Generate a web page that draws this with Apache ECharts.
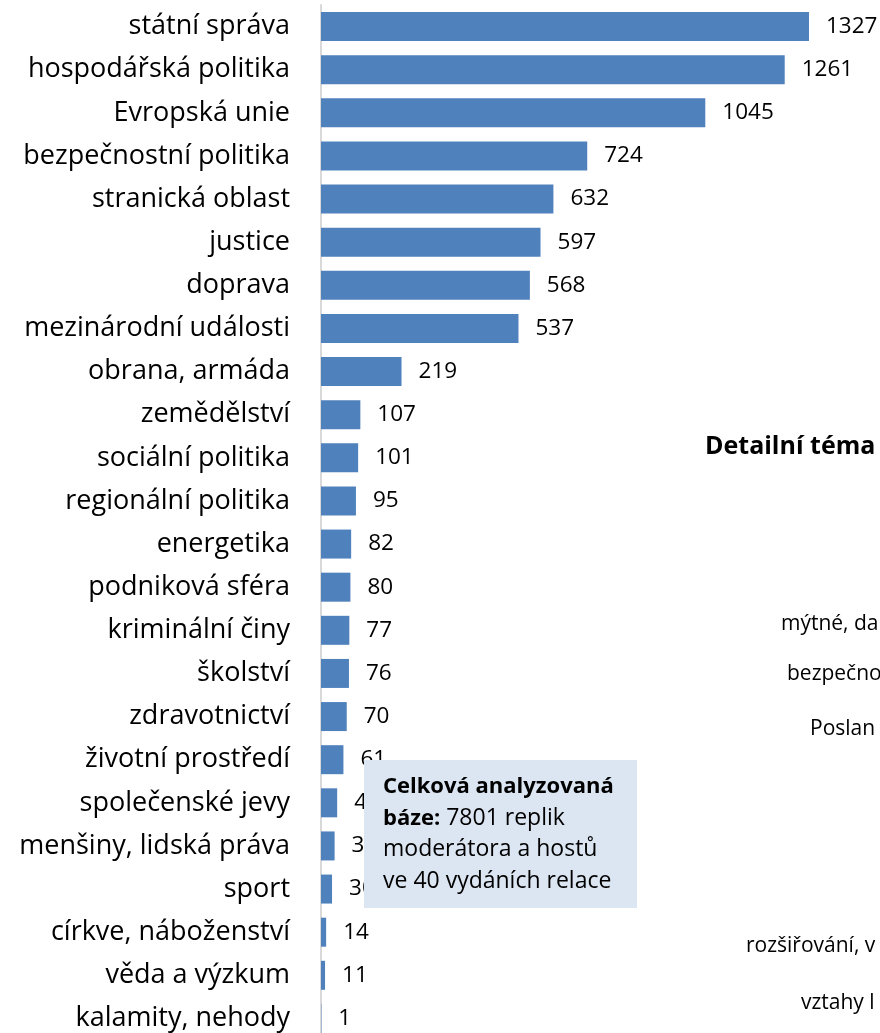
<!DOCTYPE html>
<html lang="cs">
<head>
    <meta charset="UTF-8">
    <title>Témata</title>
    <style>
        html, body { margin: 0; padding: 0; background: #fff; }
        #chart { width: 880px; height: 1033px; }
    </style>
</head>
<body>
<div id="chart"></div>
<script src="https://cdn.jsdelivr.net/npm/echarts@6/dist/echarts.min.js"></script>
<script>
    // data
    const categories = [
        'státní správa', 'hospodářská politika', 'Evropská unie', 'bezpečnostní politika',
        'stranická oblast', 'justice', 'doprava', 'mezinárodní události', 'obrana, armáda',
        'zemědělství', 'sociální politika', 'regionální politika', 'energetika',
        'podniková sféra', 'kriminální činy', 'školství', 'zdravotnictví', 'životní prostředí',
        'společenské jevy', 'menšiny, lidská práva', 'sport', 'církve, náboženství',
        'věda a výzkum', 'kalamity, nehody'
    ];
    const values = [1327, 1261, 1045, 724, 632, 597, 568, 537, 219, 107, 101, 95, 82, 80, 77, 76, 70, 61, 44, 37, 30, 14, 11, 1];
    const sideTitle = 'Detailní téma';
    const sideLabels = ['mýtné, da', 'bezpečno', 'Poslan', 'rozšiřování, v', 'vztahy l'];

    const FONT = '"Open Sans", sans-serif';
    let chart = echarts.init(document.getElementById('chart'));

    // texty vpravo (useknutý druhý graf)
    const sidePos = [[781, 625], [787, 675], [810, 730], [746, 947], [801, 1004]];
    let sideGraphics = sideLabels.map(function (t, i) {
        return {
            type: 'text', left: sidePos[i][0], top: sidePos[i][1] - 11,
            style: {text: t, font: '21px ' + FONT, fill: '#000'}
        };
    });

    chart.setOption({
        animation: false,
        grid: {
            left: 321, top: 5, width: 551.6, height: 1035,
            containLabel: false, outerBoundsMode: 'none'
        },
        xAxis: {
            type: 'value', min: 0, max: 1500, show: false
        },
        yAxis: {
            type: 'category', data: categories, inverse: true,
            axisLine: {show: true, lineStyle: {color: '#d9d9d9', width: 2}},
            axisTick: {show: false},
            axisLabel: {color: '#000', fontSize: 27, fontFamily: FONT, margin: 31}
        },
        series: [{
            type: 'bar', data: values, barWidth: 29,
            itemStyle: {color: '#4f81bd'},
            label: {
                show: true, position: 'right', distance: 17,
                color: '#000', fontSize: 22.5, fontFamily: FONT
            }
        }],
        graphic: [
            {
                type: 'rect', left: 364, top: 760, z: 100,
                shape: {width: 273, height: 148},
                style: {fill: '#dce6f2'}
            },
            {
                type: 'text', left: 383, top: 771, z: 101,
                style: {
                    text: '{b|Celková analyzovaná}\n{b|báze:} 7801 replik\nmoderátora a hostů\nve 40 vydáních relace',
                    font: '23px ' + FONT, fill: '#000', lineHeight: 31.5,
                    rich: {b: {fontWeight: 'bold', fontSize: 22, fontFamily: FONT, lineHeight: 31.5}}
                }
            },
            {
                type: 'text', left: 705, top: 434,
                style: {text: sideTitle, font: 'bold 25px ' + FONT, fill: '#000'}
            }
        ].concat(sideGraphics)
    });
</script>
</body>
</html>
